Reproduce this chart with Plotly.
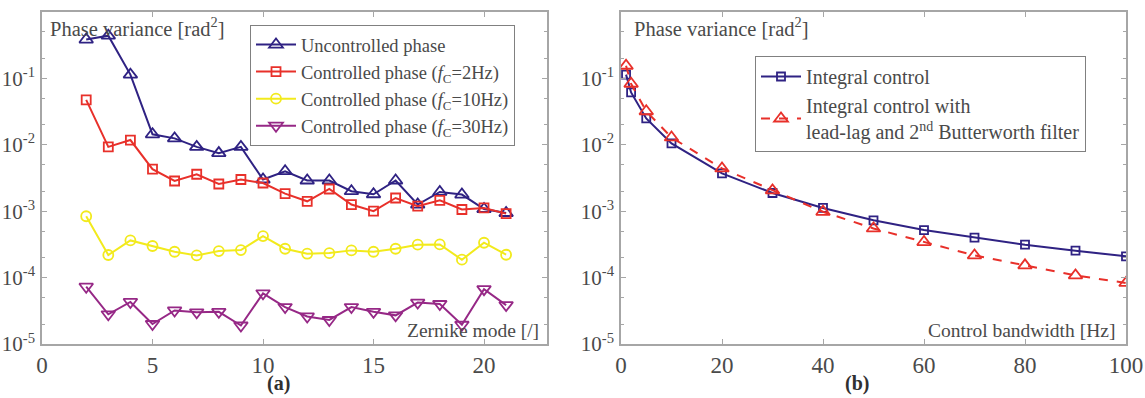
import plotly.graph_objects as go

# ---------------- data ----------------
modes = list(range(2, 22))
uncontrolled = [0.385, 0.44, 0.114, 0.0144, 0.0125, 0.0093, 0.0075, 0.0093, 0.0030, 0.0040,
                0.0029, 0.0029, 0.0020, 0.0018, 0.0029, 0.00126, 0.00195, 0.00178, 0.00108, 0.00094]
ctrl_2hz = [0.0475, 0.0093, 0.0118, 0.0043, 0.00285, 0.0036, 0.00257, 0.0030, 0.00266, 0.00184,
            0.00141, 0.00216, 0.00126, 0.0010, 0.00158, 0.00119, 0.00146, 0.00106, 0.00112, 0.00092]
ctrl_10hz = [0.00084, 0.000219, 0.000363, 0.000299, 0.000245, 0.000216, 0.000251, 0.00026, 0.000422, 0.000272,
             0.000229, 0.000234, 0.000257, 0.000245, 0.000272, 0.000313, 0.000316, 0.000186, 0.000335, 0.000221]
ctrl_30hz = [7.3e-5, 2.8e-5, 4.3e-5, 2.0e-5, 3.2e-5, 3.0e-5, 3.05e-5, 1.9e-5, 5.8e-5, 3.6e-5,
             2.6e-5, 2.3e-5, 3.6e-5, 3.05e-5, 2.7e-5, 4.2e-5, 4.0e-5, 1.95e-5, 6.7e-5, 3.85e-5]

bandwidth = [1, 2, 5, 10, 20, 30, 40, 50, 60, 70, 80, 90, 100]
integral = [0.114, 0.0615, 0.025, 0.0105, 0.0037, 0.00188, 0.00112, 0.00073, 0.00052, 0.00040,
            0.000313, 0.000254, 0.000209]
integral_ll = [0.155, 0.083, 0.032, 0.0129, 0.0044, 0.00206, 0.00098, 0.00055, 0.000343, 0.000216,
               0.000153, 0.000108, 8.3e-5]

ytick_vals = [1, 0.1, 0.01, 0.001, 0.0001, 0.00001]
ytick_text = ["10<sup>0</sup>", "10<sup>-1</sup>", "10<sup>-2</sup>", "10<sup>-3</sup>",
              "10<sup>-4</sup>", "10<sup>-5</sup>"]
xticks_a = [0, 5, 10, 15, 20]
xticks_b = [0, 20, 40, 60, 80, 100]

# ---------------- style ----------------
NAVY = "#2f2283"
RED = "#e8302a"
YELLOW = "#f2ea1c"
PURPLE = "#962886"
FRAME = "#a6a6a6"
TXT = "#4a4a4a"
FONT = "Liberation Serif"

fig = go.Figure()

def add(x, y, name, color, symbol, xa, ya, legend, dash="solid", size=10):
    fig.add_trace(go.Scatter(
        x=x, y=y, name=name, mode="lines+markers",
        line=dict(color=color, width=2, dash=dash),
        marker=dict(symbol=symbol, size=size, color=color, line=dict(width=1.8)),
        xaxis=xa, yaxis=ya, legend=legend))

add(modes, uncontrolled, "Uncontrolled phase", NAVY, "triangle-up-open", "x", "y", "legend", size=12)
add(modes, ctrl_2hz, "Controlled phase (<i>f</i><sub>C</sub>=2Hz)", RED, "square-open", "x", "y", "legend", size=9)
add(modes, ctrl_10hz, "Controlled phase (<i>f</i><sub>C</sub>=10Hz)", YELLOW, "circle-open", "x", "y", "legend", size=10)
add(modes, ctrl_30hz, "Controlled phase (<i>f</i><sub>C</sub>=30Hz)", PURPLE, "triangle-down-open", "x", "y", "legend", size=12)

add(bandwidth, integral, "Integral control", NAVY, "square-open", "x2", "y2", "legend2", size=8)
add(bandwidth, integral_ll, "Integral control with<br>lead-lag and 2<sup>nd</sup> Butterworth filter",
    RED, "triangle-up-open", "x2", "y2", "legend2", dash="dash", size=12)

ydom = [54 / 398, 386 / 398]
common_x = dict(showline=True, linecolor=FRAME, linewidth=1.5, mirror="ticks", ticks="inside",
                ticklen=5, tickcolor=FRAME, showgrid=False, zeroline=False, automargin=False,
                tickfont=dict(family=FONT, size=23, color=TXT), ticklabelstandoff=0)
common_y = dict(type="log", range=[-5, 0], showline=True, linecolor=FRAME, linewidth=1.5,
                mirror="ticks", ticks="inside", ticklen=5, tickcolor=FRAME, showgrid=False,
                zeroline=False, automargin=False, tickvals=ytick_vals, ticktext=ytick_text,
                tickfont=dict(family=FONT, size=21, color=TXT), domain=ydom, ticklabelstandoff=1,
                minor=dict(ticks="inside", ticklen=3, tickcolor=FRAME, showgrid=False))

fig.update_layout(
    width=1145, height=398,
    margin=dict(l=0, r=0, t=0, b=0),
    paper_bgcolor="white", plot_bgcolor="white",
    font=dict(family=FONT, color=TXT, size=19),
    xaxis=dict(domain=[42 / 1145, 547 / 1145], range=[0, 22.85], tickvals=xticks_a, anchor="y", **common_x),
    yaxis=dict(anchor="x", **common_y),
    xaxis2=dict(domain=[621 / 1145, 1126 / 1145], range=[0, 100], tickvals=xticks_b, anchor="y2", **common_x),
    yaxis2=dict(anchor="x2", **common_y),
    legend=dict(x=250 / 1145, y=(398 - 25) / 398, xanchor="left", yanchor="top",
                bordercolor="#808080", borderwidth=1, bgcolor="white",
                font=dict(family=FONT, size=18.5, color=TXT), tracegroupgap=0, itemwidth=40),
    legend2=dict(x=755 / 1145, y=(398 - 56) / 398, xanchor="left", yanchor="top",
                 bordercolor="#808080", borderwidth=1, bgcolor="white",
                 font=dict(family=FONT, size=20, color=TXT), tracegroupgap=0, itemwidth=40),
    showlegend=True,
)

ann = dict(showarrow=False)
fig.add_annotation(text="Phase variance [rad<sup>2</sup>]", xref="x domain", yref="y domain",
                   x=0.012, y=0.955, xanchor="left", yanchor="middle",
                   font=dict(family=FONT, size=20.5, color=TXT), **ann)
fig.add_annotation(text="Zernike mode [/]", xref="x domain", yref="y domain",
                   x=0.988, y=0.04, xanchor="right", yanchor="middle",
                   font=dict(family=FONT, size=19.5, color=TXT), **ann)
fig.add_annotation(text="Phase variance [rad<sup>2</sup>]", xref="x2 domain", yref="y2 domain",
                   x=0.022, y=0.955, xanchor="left", yanchor="middle",
                   font=dict(family=FONT, size=20.5, color=TXT), **ann)
fig.add_annotation(text="Control bandwidth [Hz]", xref="x2 domain", yref="y2 domain",
                   x=0.982, y=0.04, xanchor="right", yanchor="middle",
                   font=dict(family=FONT, size=19.5, color=TXT), **ann)
fig.add_annotation(text="<b>(a)</b>", xref="paper", yref="paper", x=278 / 1145, y=(398 - 383) / 398,
                   xanchor="center", yanchor="middle",
                   font=dict(family=FONT, size=20, color="#303030"), **ann)
fig.add_annotation(text="<b>(b)</b>", xref="paper", yref="paper", x=857 / 1145, y=(398 - 383) / 398,
                   xanchor="center", yanchor="middle",
                   font=dict(family=FONT, size=20, color="#303030"), **ann)

fig.write_html("out.html")
